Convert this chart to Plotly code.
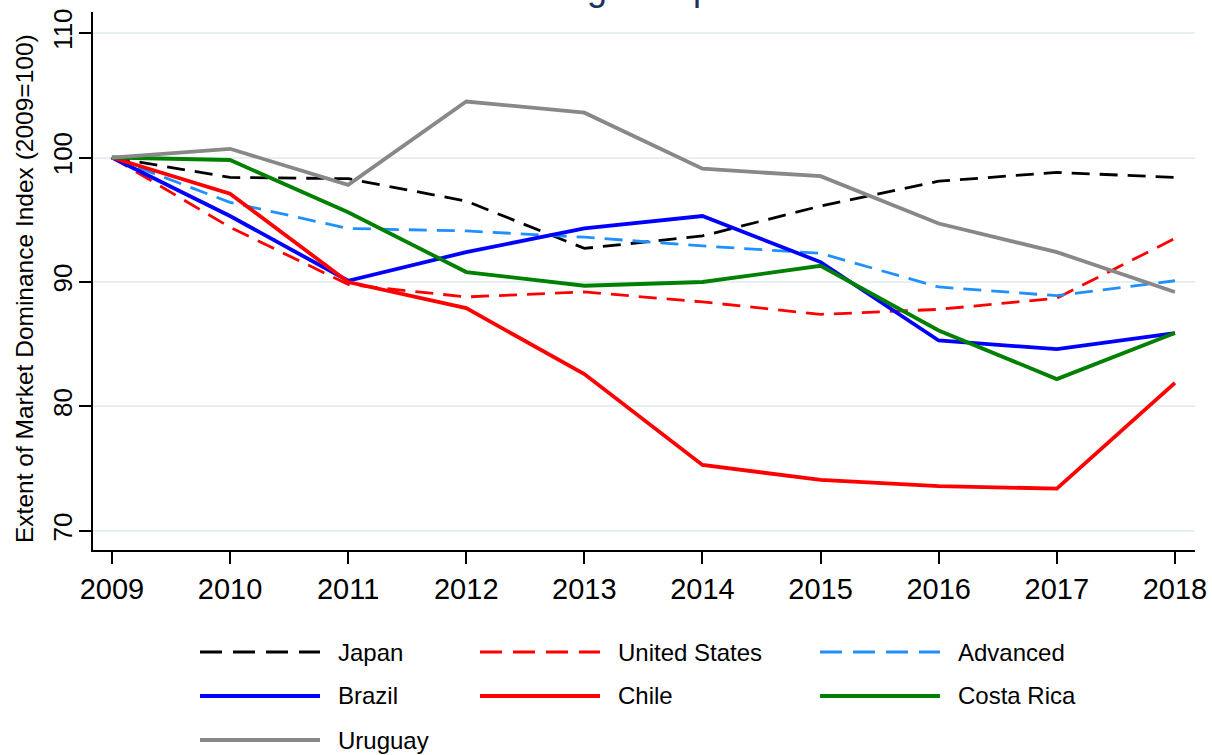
import plotly.graph_objects as go

years = [2009, 2010, 2011, 2012, 2013, 2014, 2015, 2016, 2017, 2018]
japan = [100, 98.4, 98.3, 96.5, 92.7, 93.7, 96.1, 98.1, 98.8, 98.4]
united_states = [100, 94.4, 89.8, 88.8, 89.2, 88.4, 87.4, 87.8, 88.7, 93.5]
advanced = [100, 96.4, 94.3, 94.1, 93.6, 92.9, 92.3, 89.6, 88.9, 90.1]
brazil = [100, 95.3, 90.1, 92.4, 94.3, 95.3, 91.6, 85.3, 84.6, 85.9]
chile = [100, 97.1, 90.0, 87.9, 82.6, 75.3, 74.1, 73.6, 73.4, 81.9]
costa_rica = [100, 99.8, 95.6, 90.8, 89.7, 90.0, 91.3, 86.1, 82.2, 85.9]
uruguay = [100, 100.7, 97.8, 104.5, 103.6, 99.1, 98.5, 94.7, 92.4, 89.2]

y_ticks = [70, 80, 90, 100, 110]

series = [
    ("Japan", japan, "#000000", "dash"),
    ("United States", united_states, "#ff0000", "dash"),
    ("Advanced", advanced, "#1e90ff", "dash"),
    ("Brazil", brazil, "#0000ff", "solid"),
    ("Chile", chile, "#ff0000", "solid"),
    ("Costa Rica", costa_rica, "#008000", "solid"),
    ("Uruguay", uruguay, "#888888", "solid"),
]

W, H = 1212, 755
SCR_L, SCR_R, SCR_T, SCR_B = 93, 1195, 12, 550
ML, MR, MT, MB = SCR_L, W - SCR_R, SCR_T, H - SCR_B
PW, PH = W - ML - MR, H - MT - MB


def px_x(sx):
    return (sx - ML) / PW


def px_y(sy):
    return (H - MB - sy) / PH


FONT = "Liberation Sans, Arial, sans-serif"

fig = go.Figure()
for name, vals, color, style in series:
    if style == "dash":
        line = dict(color=color, width=2.8, dash="18px,10px")
    else:
        line = dict(color=color, width=3.8)
    fig.add_trace(go.Scatter(x=years, y=vals, mode="lines", name=name,
                             line=line, showlegend=False))

# manual legend (Stata-style long samples)
legend_cols = [200, 480, 820]
legend_rows = [652, 696, 740]
shapes = []
annotations = []
for i, (name, vals, color, style) in enumerate(series):
    r, c = divmod(i, 3)
    x0 = legend_cols[c]
    y0 = legend_rows[r]
    shapes.append(dict(
        type="line", xref="paper", yref="paper",
        x0=px_x(x0), x1=px_x(x0 + 120), y0=px_y(y0), y1=px_y(y0),
        line=dict(color=color, width=2.8 if style == "dash" else 4,
                  dash="22px,11px" if style == "dash" else "solid"),
    ))
    annotations.append(dict(
        text=name, xref="paper", yref="paper", x=px_x(x0 + 136), y=px_y(y0),
        xanchor="left", yanchor="middle", showarrow=False,
        font=dict(family=FONT, size=24, color="#000000"),
    ))

# title, mostly above the top edge as in the reference
annotations.append(dict(
    text="Declining Competition", xref="paper", yref="paper",
    x=px_x(634), y=px_y(9.6), xanchor="center", yanchor="bottom",
    showarrow=False, font=dict(family=FONT, size=36, color="#1f2f5f"),
))

# y-axis title
annotations.append(dict(
    text="Extent of Market Dominance Index (2009=100)", xref="paper",
    yref="paper", x=px_x(24), y=px_y(289), xanchor="center",
    yanchor="middle", textangle=-90, showarrow=False,
    font=dict(family=FONT, size=24.5, color="#000000"),
))

fig.update_layout(
    template="none",
    width=W, height=H,
    margin=dict(l=ML, r=MR, t=MT, b=MB, pad=0),
    paper_bgcolor="white", plot_bgcolor="white",
    font=dict(family=FONT, color="#000000"),
    showlegend=False,
    shapes=shapes,
    annotations=annotations,
    xaxis=dict(
        range=[2008.84, 2018.17], tickmode="array", tickvals=years,
        ticktext=[str(y) for y in years],
        ticks="outside", ticklen=12, tickwidth=1.5, tickcolor="#000000",
        showline=True, linecolor="#000000", linewidth=1.5,
        showgrid=False, zeroline=False,
        tickfont=dict(family=FONT, size=29, color="#000000"),
        ticklabelstandoff=0, automargin=False,
    ),
    yaxis=dict(
        range=[68.47, 111.69], tickmode="array", tickvals=y_ticks,
        ticktext=[str(v) for v in y_ticks],
        ticks="outside", ticklen=12, tickwidth=1.5, tickcolor="#000000",
        showline=True, linecolor="#000000", linewidth=1.5,
        showgrid=True, gridcolor="#e6eff1", gridwidth=2,
        zeroline=False, tickangle=-90,
        tickfont=dict(family=FONT, size=26, color="#000000"),
        ticklabelstandoff=-3, automargin=False,
    ),
)

fig.write_html(
    "out.html",
    config={"displayModeBar": False},
    post_script="document.body.style.margin='0';document.body.style.overflow='hidden';",
)
